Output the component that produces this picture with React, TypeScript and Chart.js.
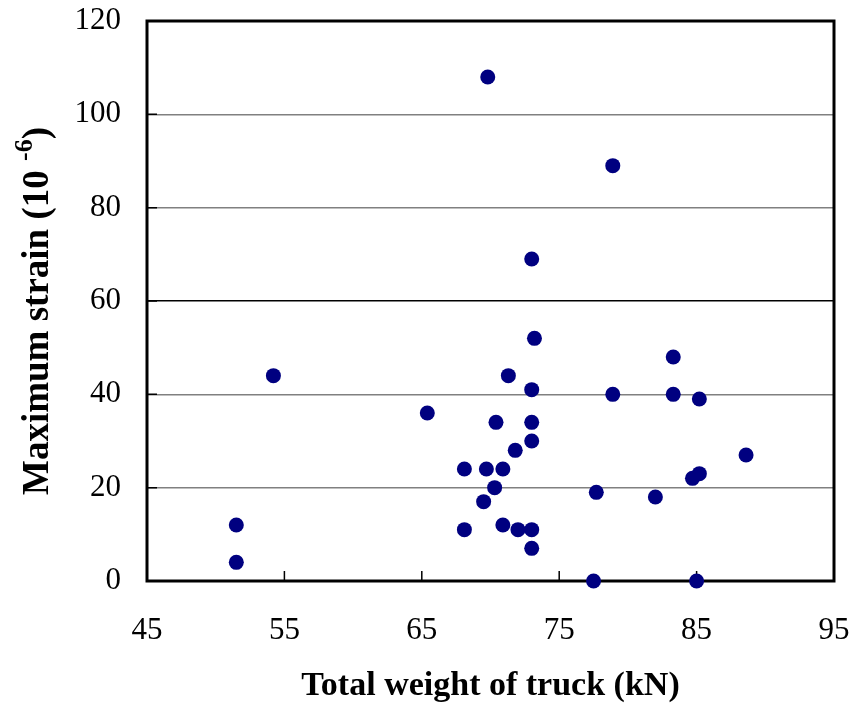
import React, { useEffect, useRef } from "react";
import { Chart, registerables } from "chart.js";

Chart.register(...registerables);

const weights: number[] = [
  69.8, 78.9, 73.0, 73.2, 54.2, 71.3, 83.3, 73.0, 78.9, 83.3, 85.2, 65.4,
  70.4, 73.0, 73.0, 71.8, 68.1, 69.7, 70.9, 88.6, 70.3, 77.7, 69.5, 82.0,
  84.7, 85.2, 51.5, 51.5, 68.1, 70.9, 72.0, 73.0, 73.0, 77.5, 85.0,
];
const strains: number[] = [
  108, 89, 69, 52, 44, 44, 48, 41, 40, 40, 39, 36,
  34, 34, 30, 28, 24, 24, 24, 27, 20, 19, 17, 18,
  22, 23, 12, 4, 11, 12, 11, 11, 7, 0, 0,
];
const xTicks: number[] = [45, 55, 65, 75, 85, 95];
const yTicks: number[] = [0, 20, 40, 60, 80, 100, 120];
const xTitle = "Total weight of truck (kN)";
const yTitleMain = "Maximum strain (10 ";
const yTitleSup = "-6";
const yTitleEnd = ")";

const FONT = '"Liberation Serif", "Times New Roman", serif';

const framePlugin = {
  id: "frame",
  beforeDatasetsDraw(chart: any) {
    const { ctx, chartArea } = chart;
    const xs = chart.scales.x;
    const ys = chart.scales.y;
    ctx.save();
    ctx.strokeStyle = "#000";
    ctx.lineWidth = 1.5;
    ctx.beginPath();
    xTicks.forEach((v) => {
      if (v === xTicks[0] || v === xTicks[xTicks.length - 1]) return;
      const px = xs.getPixelForValue(v);
      ctx.moveTo(px, chartArea.bottom);
      ctx.lineTo(px, chartArea.bottom - 10);
    });
    yTicks.forEach((v) => {
      if (v === yTicks[0] || v === yTicks[yTicks.length - 1]) return;
      const py = ys.getPixelForValue(v);
      ctx.moveTo(chartArea.left, py);
      ctx.lineTo(chartArea.left + 10, py);
    });
    ctx.stroke();
    ctx.lineWidth = 3;
    ctx.strokeRect(
      chartArea.left,
      chartArea.top,
      chartArea.right - chartArea.left,
      chartArea.bottom - chartArea.top
    );
    ctx.restore();
  },
  afterDraw(chart: any) {
    const { ctx } = chart;
    ctx.save();
    const mainFont = `bold 37px ${FONT}`;
    const supFont = `bold 26px ${FONT}`;
    ctx.font = mainFont;
    const w1 = ctx.measureText(yTitleMain).width;
    const w3 = ctx.measureText(yTitleEnd).width;
    ctx.font = supFont;
    const w2 = ctx.measureText(yTitleSup).width;
    const total = w1 + w2 + w3;
    const cx = 38;
    const cy = 311;
    ctx.translate(cx, cy);
    ctx.rotate(-Math.PI / 2);
    ctx.fillStyle = "#000";
    ctx.textBaseline = "middle";
    ctx.textAlign = "left";
    let x = -total / 2;
    ctx.font = mainFont;
    ctx.fillText(yTitleMain, x, 0);
    x += w1;
    ctx.font = supFont;
    ctx.fillText(yTitleSup, x, -13);
    x += w2;
    ctx.font = mainFont;
    ctx.fillText(yTitleEnd, x, 0);
    ctx.restore();
  },
};

export default function App() {
  const ref = useRef<HTMLCanvasElement | null>(null);
  useEffect(() => {
    if (!ref.current) return;
    const chart = new Chart(ref.current, {
      type: "scatter",
      data: {
        datasets: [
          {
            data: weights.map((w, i) => ({ x: w, y: strains[i] })),
            backgroundColor: "#000080",
            borderColor: "#000080",
            pointRadius: 7.5,
            pointBorderWidth: 0,
            clip: false as any,
          },
        ],
      },
      options: {
        animation: false,
        responsive: false,
        layout: { padding: { top: 21, right: 27, bottom: 0, left: 0 } },
        plugins: {
          legend: { display: false },
          tooltip: { enabled: false },
        },
        scales: {
          x: {
            type: "linear",
            min: 45,
            max: 95,
            afterBuildTicks: (s: any) => {
              s.ticks = xTicks.map((v) => ({ value: v }));
            },
            afterFit: (s: any) => {
              s.height = 128;
              s.paddingLeft = 0;
              s.paddingRight = 0;
            },
            grid: { display: false, drawTicks: false },
            border: { display: false },
            ticks: {
              color: "#000",
              padding: 31,
              font: { family: FONT, size: 31 },
            },
            title: {
              display: true,
              text: xTitle,
              color: "#000",
              font: { family: FONT, size: 34, weight: "bold" },
              padding: { top: 0, bottom: 2 },
            },
          },
          y: {
            type: "linear",
            min: 0,
            max: 120,
            afterBuildTicks: (s: any) => {
              s.ticks = yTicks.map((v) => ({ value: v }));
            },
            afterFit: (s: any) => {
              s.width = 147;
              s.paddingTop = 0;
              s.paddingBottom = 0;
            },
            grid: {
              drawTicks: false,
              color: (c: any) => (c.tick && c.tick.value === 60 ? "#000" : "#808080"),
              lineWidth: 1.5,
            },
            border: { display: false },
            ticks: {
              color: "#000",
              padding: 26,
              font: { family: FONT, size: 31 },
            },
          },
        },
      },
      plugins: [framePlugin],
    });
    return () => chart.destroy();
  }, []);
  return (
    <div style={{ position: "absolute", left: 0, top: 0, width: 861, height: 709, background: "#fff" }}>
      <canvas ref={ref} width={861} height={709} style={{ display: "block" }} />
    </div>
  );
}
